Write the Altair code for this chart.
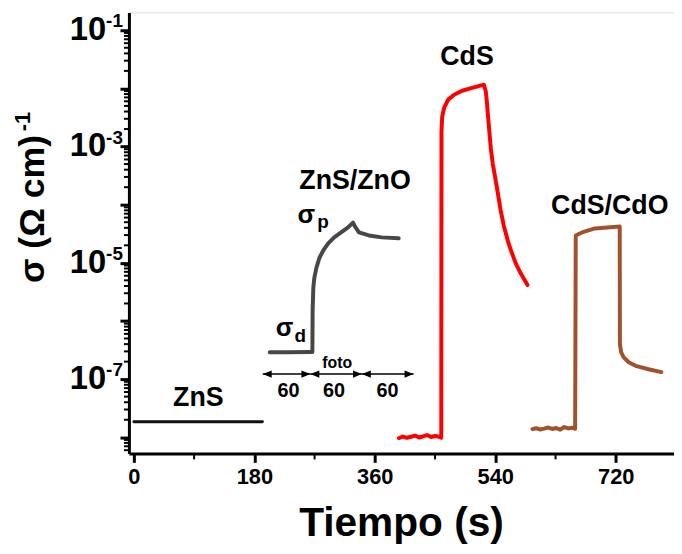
import altair as alt
import pandas as pd

FONT = "Liberation Sans"

# ---------------- data (time in s, conductivity in (Ohm cm)^-1) ----------------
zns_t = [0, 30, 60, 90, 120, 150, 180, 192]
zns_s = [1.85e-8, 1.85e-8, 1.85e-8, 1.85e-8, 1.85e-8, 1.85e-8, 1.85e-8, 1.85e-8]

znso_t = [203, 230, 263.7, 266.7, 267.1, 268.1, 269.6, 272.6, 277.0, 283.0, 290.4, 299.3,
          309.6, 320.0, 327.4, 330.4, 336.3, 351.1, 370.4, 395.6]
znso_s = [2.89e-7, 2.90e-7, 2.92e-7, 2.92e-7, 1.56e-6, 3.70e-6, 5.48e-6, 8.11e-6, 1.20e-5,
          1.64e-5, 2.16e-5, 2.74e-5, 3.33e-5, 4.06e-5, 4.93e-5, 4.22e-5, 3.33e-5, 2.96e-5,
          2.74e-5, 2.64e-5]

cds_t = [396, 402, 408, 414, 420, 426, 432, 438, 444, 450, 456, 459.3,
         459.6, 460.7, 463.7, 469.6, 478.5, 490.4, 506.7, 523.0,
         525.9, 527.4, 528.9, 531.1, 533.3, 536.3, 540.7, 545.2, 548.1, 552.6, 558.5,
         564.4, 570.4, 577.8, 588.1]
cds_s = [0.97e-8, 1.03e-8, 0.98e-8, 1.02e-8, 1.07e-8, 0.99e-8, 1.04e-8, 1.09e-8,
         1.01e-8, 1.05e-8, 1.02e-8, 0.98e-8,
         1.82e-3, 3.29e-3, 4.69e-3, 6.41e-3, 7.80e-3, 9.12e-3, 1.03e-2, 1.16e-2,
         8.77e-3, 5.93e-3, 3.56e-3, 1.82e-3, 9.37e-4, 5.0e-4, 2.57e-4, 1.26e-4, 7.91e-5,
         4.39e-5, 2.44e-5, 1.52e-5, 9.88e-6, 6.67e-6, 4.17e-6]

cdso_t = [595.6, 601, 607, 613, 619, 625, 631, 637, 643, 649, 655, 659.3,
          660.2, 669.6, 688.9, 725.9,
          726.2, 728.1, 731.9, 739.3, 751.1, 768.9, 788.1]
cdso_s = [1.38e-8, 1.43e-8, 1.36e-8, 1.41e-8, 1.47e-8, 1.39e-8, 1.44e-8, 1.35e-8,
          1.50e-8, 1.42e-8, 1.46e-8, 1.40e-8,
          2.96e-5, 3.33e-5, 3.90e-5, 4.21e-5,
          3.95e-7, 2.88e-7, 2.37e-7, 1.95e-7, 1.67e-7, 1.48e-7, 1.32e-7]

series_names = ["ZnS", "ZnS/ZnO", "CdS", "CdS/CdO"]
series_colors = ["#111111", "#474747", "#ff0000", "#a0522d"]
series_widths = [3, 4, 4, 4]

x_ticks = [0, 180, 360, 540, 720]
x_minor = [90, 270, 450, 630]
y_major = [1e-8, 1e-7, 1e-6, 1e-5, 1e-4, 1e-3, 1e-2, 1e-1]
y_label_vals = [1e-1, 1e-3, 1e-5, 1e-7]
y_label_exp = ["-1", "-3", "-5", "-7"]

# annotations (label, t, sigma) – centred text, baseline at sigma
ann_text = ["ZnS", "ZnS/ZnO", "CdS", "CdS/CdO"]
ann_t = [96.3, 330.4, 497.8, 711.1]
ann_s = [3.47e-8, 1.87e-4, 2.53e-2, 7.03e-5]

# sigma_p / sigma_d (main glyph + subscript), left aligned
sig_sub = ["p", "d"]
sig_t = [244.4, 211.9]
sig_s = [4.93e-5, 5.41e-7]
sub_t = [274.1, 240.0]
sub_s = [3.9e-5, 4.28e-7]

# 60 s interval arrows
arr_x1 = [192.6, 263.7, 340.7]
arr_x2 = [263.7, 340.7, 417.8]
arr_y = 1.22e-7
arr_lab_t = [231, 299, 379]
arr_lab_s = 5.0e-8
foto_t = 303.7
foto_s = 1.54e-7

# ---------------- scales / axes ----------------
xscale = alt.Scale(domain=[-7.4, 807], nice=False, zero=False)
yscale = alt.Scale(type="log", domain=[5.27e-9, 0.2028], nice=False)
xaxis = alt.Axis(values=x_ticks, title=None, grid=False, labelFont=FONT, labelFontWeight="bold",
                 labelFontSize=22, labelColor="black", tickSize=9, tickWidth=3, tickColor="black",
                 domainWidth=3, domainColor="black", labelPadding=4, labelFlush=False)
yaxis = alt.Axis(values=y_major, title=None, grid=False, labels=False, tickSize=9, tickWidth=3,
                 tickColor="black", domainWidth=3, domainColor="black")

def X(f):
    return alt.X(f, type="quantitative", scale=xscale, axis=xaxis)

def Y(f):
    return alt.Y(f, type="quantitative", scale=yscale, axis=yaxis)

layers = []
for name, tt, ss, col, w in zip(series_names, [zns_t, znso_t, cds_t, cdso_t],
                                [zns_s, znso_s, cds_s, cdso_s], series_colors, series_widths):
    df = pd.DataFrame({"t": tt, "s": ss, "i": list(range(len(tt)))})
    layers.append(alt.Chart(df).mark_line(color=col, strokeWidth=w, strokeJoin="round",
                                          strokeCap="round")
                  .encode(x=X("t"), y=Y("s"), order="i:Q"))

# minor ticks
ymin = [k * 10.0 ** e for e in range(-9, -1) for k in range(2, 10)]
ymin = [v for v in ymin if 5.27e-9 <= v <= 0.2028]
layers.append(alt.Chart(pd.DataFrame({"v": ymin})).mark_rule(color="black", strokeWidth=2)
              .encode(y=Y("v"), x=alt.value(-5), x2=alt.value(0)))
layers.append(alt.Chart(pd.DataFrame({"v": x_minor})).mark_rule(color="black", strokeWidth=2)
              .encode(x=X("v"), y=alt.value(445), y2=alt.value(451)))

# y tick labels 10^n
ylab = pd.DataFrame({"v": y_label_vals, "e": y_label_exp})
layers.append(alt.Chart(ylab).mark_text(font=FONT, fontWeight="bold", fontSize=33, align="right",
                                        baseline="middle", color="black")
              .encode(y=Y("v"), x=alt.value(-23), text=alt.value("10")))
layers.append(alt.Chart(ylab).mark_text(font=FONT, fontWeight="bold", fontSize=19, align="left",
                                        baseline="alphabetic", dy=-3, color="black")
              .encode(y=Y("v"), x=alt.value(-23), text="e:N"))

# annotations
adf = pd.DataFrame({"t": ann_t, "s": ann_s, "txt": ann_text})
layers.append(alt.Chart(adf).mark_text(font=FONT, fontWeight="bold", fontSize=27, align="center",
                                       baseline="alphabetic", color="black")
              .encode(x=X("t"), y=Y("s"), text="txt:N"))
sdf = pd.DataFrame({"t": sig_t, "s": sig_s})
layers.append(alt.Chart(sdf).mark_text(font=FONT, fontWeight="bold", fontSize=26, align="left",
                                       baseline="alphabetic", color="black")
              .encode(x=X("t"), y=Y("s"), text=alt.value("σ")))
subdf = pd.DataFrame({"t": sub_t, "s": sub_s, "txt": sig_sub})
layers.append(alt.Chart(subdf).mark_text(font=FONT, fontWeight="bold", fontSize=19, align="left",
                                         baseline="alphabetic", color="black")
              .encode(x=X("t"), y=Y("s"), text="txt:N"))

# arrows
ardf = pd.DataFrame({"a": arr_x1, "b": arr_x2, "s": [arr_y] * 3})
layers.append(alt.Chart(ardf).mark_rule(color="black", strokeWidth=1.5)
              .encode(x=X("a"), x2="b", y=Y("s")))
layers.append(alt.Chart(ardf).mark_point(shape="M0,0 L1,-0.4 L1,0.4 Z", filled=True, size=324,
                                         color="black", opacity=1)
              .encode(x=X("a"), y=Y("s")))
layers.append(alt.Chart(ardf).mark_point(shape="M0,0 L-1,-0.4 L-1,0.4 Z", filled=True, size=324,
                                         color="black", opacity=1)
              .encode(x=X("b"), y=Y("s")))
ldf = pd.DataFrame({"t": arr_lab_t, "s": [arr_lab_s] * 3})
layers.append(alt.Chart(ldf).mark_text(font=FONT, fontWeight="bold", fontSize=20, align="center",
                                       baseline="alphabetic", color="black")
              .encode(x=X("t"), y=Y("s"), text=alt.value("60")))
fdf = pd.DataFrame({"t": [foto_t], "s": [foto_s]})
layers.append(alt.Chart(fdf).mark_text(font=FONT, fontWeight="bold", fontSize=16, align="center",
                                       baseline="alphabetic", color="black")
              .encode(x=X("t"), y=Y("s"), text=alt.value("foto")))

# axis titles
one = pd.DataFrame({"k": [0]})
layers.append(alt.Chart(one).mark_text(font=FONT, fontWeight="bold", fontSize=41, align="center",
                                       baseline="alphabetic", color="black")
              .encode(x=alt.value(275), y=alt.value(528), text=alt.value("Tiempo (s)")))
layers.append(alt.Chart(one).mark_text(font=FONT, fontWeight="bold", fontSize=36, align="left",
                                       baseline="alphabetic", angle=270, color="black")
              .encode(x=alt.value(-86), y=alt.value(273), text=alt.value("σ (Ω cm)")))
layers.append(alt.Chart(one).mark_text(font=FONT, fontWeight="bold", fontSize=22, align="left",
                                       baseline="alphabetic", angle=270, color="black")
              .encode(x=alt.value(-100), y=alt.value(120), text=alt.value("-1")))

chart = alt.layer(*layers).properties(
    width=550, height=445,
    autosize=alt.AutoSizeParams(type="none"),
    padding={"left": 122, "top": 2, "right": 0, "bottom": 97},
).configure_view(stroke="black", strokeWidth=3).configure(background="white")

chart.save("out.html", embed_options={"renderer": "svg", "actions": False})
